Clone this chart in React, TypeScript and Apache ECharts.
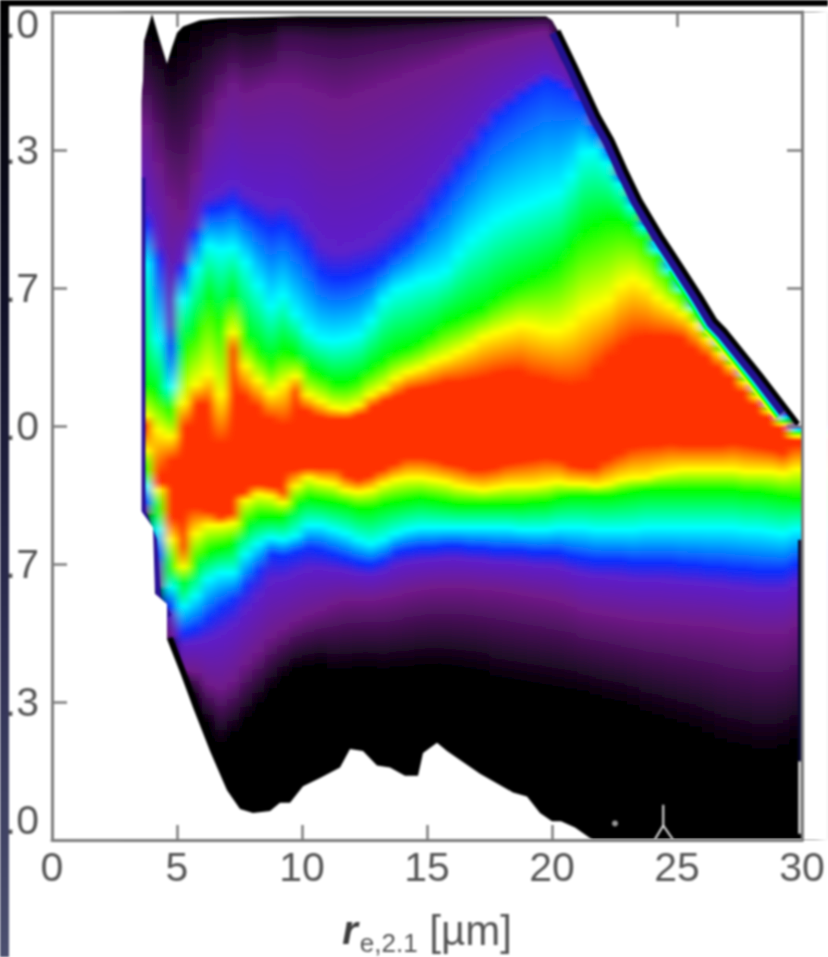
import React, { useEffect, useRef } from "react";
import * as echarts from "echarts";

// x axis and y axis labels (the reference's left edge leaves only these characters visible)
const xTicks = [0, 5, 10, 15, 20, 25, 30];
const yTicks = [-2, -4 / 3, -2 / 3, 0, 2 / 3, 4 / 3, 2];
const yLabels = [".0", ".3", ".7", ".0", ".7", ".3", "{t|.0}"];

// centre of each histogram column, in µm
const columnX = [
  3.75, 4.25, 4.75, 5.25, 5.75, 6.25, 6.75, 7.25, 7.75, 8.25,
  8.75, 9.25, 9.75, 10.25, 10.75, 11.25, 11.75, 12.25, 12.75, 13.25,
  13.75, 14.25, 14.75, 15.25, 15.75, 16.25, 16.75, 17.25, 17.75, 18.25,
  18.75, 19.25, 19.75, 20.25, 20.75, 21.25, 21.75, 22.25, 22.75, 23.25,
  23.75, 24.25, 24.75, 25.25, 25.75, 26.25, 26.75, 27.25, 27.75, 28.25,
  28.75, 29.25, 29.75,
];

// y value at which each column reaches each contour colour
const topBlack = [
  1.91, 1.89, 1.82, 1.90, 1.95, 1.97, 1.97, 1.98, 1.98, 1.98,
  1.98, 1.98, 1.98, 1.98, 1.98, 1.98, 1.98, 1.98, 1.98, 1.98,
  1.98, 1.98, 1.98, 1.98, 1.98, 1.98, 1.98, 1.98, 1.98, 1.98,
  1.98, 1.98, 1.98, 1.91, 1.78, 1.65, 1.52, 1.41, 1.27, 1.15,
  1.03, 0.94, 0.84, 0.75, 0.65, 0.56, 0.48, 0.41, 0.33, 0.26,
  0.17, 0.10, 0.03,
];
const topPurple = [
  1.45, 1.26, 1.09, 1.02, 1.21, 1.43, 1.57, 1.65, 1.60, 1.62,
  1.65, 1.65, 1.65, 1.62, 1.60, 1.57, 1.57, 1.60, 1.62, 1.65,
  1.67, 1.70, 1.72, 1.74, 1.77, 1.79, 1.82, 1.84, 1.86, 1.87,
  1.89, 1.90, 1.91, 1.86, 1.75, 1.62, 1.49, 1.38, 1.25, 1.14,
  1.01, 0.92, 0.82, 0.73, 0.63, 0.54, 0.46, 0.39, 0.31, 0.24,
  0.15, 0.08, 0.01,
];
const topBlue = [
  0.97, 0.80, 0.38, 0.76, 0.92, 1.04, 1.05, 1.08, 1.03, 0.99,
  0.95, 0.97, 0.92, 0.84, 0.74, 0.71, 0.71, 0.73, 0.75, 0.79,
  0.85, 0.90, 0.97, 1.07, 1.15, 1.24, 1.32, 1.41, 1.49, 1.54,
  1.59, 1.63, 1.67, 1.65, 1.62, 1.57, 1.45, 1.34, 1.21, 1.11,
  0.99, 0.89, 0.79, 0.70, 0.59, 0.50, 0.43, 0.36, 0.28, 0.20,
  0.13, 0.06, 0.00,
];
const topCyan = [
  0.78, 0.42, 0.19, 0.61, 0.76, 0.87, 0.85, 0.86, 0.79, 0.68,
  0.58, 0.63, 0.54, 0.46, 0.42, 0.41, 0.42, 0.44, 0.51, 0.61,
  0.66, 0.68, 0.71, 0.72, 0.75, 0.83, 0.90, 0.95, 1.00, 1.03,
  1.06, 1.08, 1.11, 1.13, 1.21, 1.32, 1.33, 1.27, 1.17, 1.06,
  0.96, 0.85, 0.75, 0.66, 0.57, 0.47, 0.40, 0.33, 0.25, 0.18,
  0.10, 0.04, -0.02,
];
const topGreen = [
  0.20, 0.16, 0.08, 0.38, 0.47, 0.62, 0.51, 0.63, 0.44, 0.37,
  0.31, 0.37, 0.35, 0.28, 0.25, 0.21, 0.21, 0.23, 0.28, 0.32,
  0.36, 0.38, 0.41, 0.45, 0.50, 0.52, 0.55, 0.57, 0.62, 0.66,
  0.69, 0.72, 0.75, 0.79, 0.87, 0.94, 0.97, 1.00, 1.00, 0.97,
  0.90, 0.81, 0.71, 0.63, 0.54, 0.45, 0.38, 0.31, 0.23, 0.16,
  0.09, 0.02, -0.03,
];
const topYellow = [
  0.05, -0.02, -0.05, 0.11, 0.20, 0.25, 0.15, 0.45, 0.29, 0.22,
  0.16, 0.20, 0.24, 0.15, 0.12, 0.09, 0.08, 0.10, 0.15, 0.18,
  0.23, 0.26, 0.28, 0.31, 0.33, 0.36, 0.39, 0.43, 0.45, 0.47,
  0.49, 0.48, 0.46, 0.46, 0.49, 0.55, 0.58, 0.61, 0.68, 0.71,
  0.68, 0.62, 0.58, 0.54, 0.49, 0.42, 0.35, 0.29, 0.21, 0.14,
  0.07, 0.01, -0.05,
];
const topRed = [
  0.00, -0.24, -0.17, -0.01, 0.10, 0.10, -0.09, 0.36, 0.14, 0.09,
  0.03, 0.00, 0.16, 0.07, 0.04, 0.03, 0.03, 0.05, 0.09, 0.12,
  0.14, 0.17, 0.18, 0.19, 0.21, 0.21, 0.22, 0.23, 0.25, 0.26,
  0.26, 0.23, 0.22, 0.20, 0.19, 0.20, 0.27, 0.33, 0.38, 0.42,
  0.43, 0.43, 0.43, 0.42, 0.37, 0.33, 0.28, 0.23, 0.16, 0.10,
  0.04, -0.01, -0.07,
];
const lowRed = [
  -0.01, -0.27, -0.44, -0.58, -0.39, -0.41, -0.44, -0.42, -0.32, -0.28,
  -0.29, -0.32, -0.21, -0.20, -0.20, -0.20, -0.24, -0.26, -0.24, -0.21,
  -0.18, -0.15, -0.15, -0.16, -0.18, -0.19, -0.21, -0.21, -0.20, -0.18,
  -0.17, -0.16, -0.15, -0.16, -0.19, -0.20, -0.20, -0.16, -0.13, -0.10,
  -0.09, -0.09, -0.08, -0.09, -0.09, -0.09, -0.09, -0.08, -0.09, -0.10,
  -0.11, -0.13, -0.09,
];
const lowYellow = [
  -0.12, -0.31, -0.55, -0.68, -0.52, -0.48, -0.48, -0.47, -0.36, -0.33,
  -0.34, -0.37, -0.29, -0.25, -0.27, -0.28, -0.31, -0.32, -0.31, -0.28,
  -0.26, -0.25, -0.25, -0.26, -0.27, -0.29, -0.30, -0.31, -0.30, -0.29,
  -0.29, -0.29, -0.28, -0.27, -0.28, -0.28, -0.29, -0.28, -0.26, -0.25,
  -0.25, -0.23, -0.22, -0.21, -0.21, -0.21, -0.21, -0.21, -0.22, -0.22,
  -0.22, -0.23, -0.21,
];
const lowGreen = [
  -0.21, -0.40, -0.68, -0.76, -0.67, -0.61, -0.59, -0.57, -0.48, -0.44,
  -0.44, -0.44, -0.38, -0.35, -0.36, -0.37, -0.38, -0.40, -0.40, -0.38,
  -0.37, -0.36, -0.35, -0.36, -0.37, -0.38, -0.38, -0.38, -0.38, -0.38,
  -0.38, -0.37, -0.37, -0.35, -0.34, -0.34, -0.34, -0.34, -0.33, -0.32,
  -0.31, -0.31, -0.31, -0.31, -0.31, -0.31, -0.31, -0.31, -0.32, -0.32,
  -0.33, -0.34, -0.35,
];
const lowCyan = [
  -0.29, -0.50, -0.78, -0.87, -0.82, -0.74, -0.71, -0.71, -0.62, -0.57,
  -0.54, -0.55, -0.53, -0.48, -0.48, -0.50, -0.52, -0.55, -0.57, -0.55,
  -0.52, -0.50, -0.49, -0.49, -0.49, -0.49, -0.49, -0.49, -0.49, -0.49,
  -0.50, -0.50, -0.50, -0.49, -0.49, -0.49, -0.50, -0.50, -0.50, -0.50,
  -0.49, -0.49, -0.49, -0.49, -0.49, -0.49, -0.49, -0.49, -0.50, -0.50,
  -0.51, -0.52, -0.50,
];
const lowBlue = [
  -0.37, -0.62, -0.87, -1.00, -0.98, -0.93, -0.88, -0.84, -0.77, -0.70,
  -0.62, -0.63, -0.61, -0.59, -0.60, -0.62, -0.64, -0.66, -0.67, -0.65,
  -0.61, -0.60, -0.59, -0.59, -0.58, -0.58, -0.59, -0.59, -0.60, -0.60,
  -0.60, -0.61, -0.61, -0.61, -0.63, -0.64, -0.65, -0.65, -0.65, -0.66,
  -0.66, -0.66, -0.66, -0.67, -0.67, -0.68, -0.68, -0.69, -0.69, -0.70,
  -0.70, -0.70, -0.67,
];
const lowPurple = [
  -0.42, -0.77, -1.01, -1.18, -1.19, -1.25, -1.27, -1.23, -1.15, -1.09,
  -1.02, -0.98, -0.94, -0.91, -0.89, -0.86, -0.84, -0.84, -0.84, -0.83,
  -0.82, -0.80, -0.79, -0.78, -0.78, -0.78, -0.78, -0.79, -0.79, -0.80,
  -0.81, -0.82, -0.83, -0.84, -0.86, -0.89, -0.90, -0.91, -0.92, -0.93,
  -0.94, -0.94, -0.95, -0.95, -0.96, -0.96, -0.97, -0.98, -0.99, -1.00,
  -1.00, -1.00, -0.96,
];
const lowBlack = [
  -0.43, -0.79, -1.06, -1.25, -1.32, -1.44, -1.54, -1.49, -1.42, -1.35,
  -1.28, -1.22, -1.18, -1.17, -1.16, -1.19, -1.19, -1.18, -1.18, -1.19,
  -1.18, -1.18, -1.17, -1.17, -1.17, -1.18, -1.19, -1.20, -1.23, -1.24,
  -1.25, -1.26, -1.27, -1.28, -1.29, -1.30, -1.32, -1.34, -1.35, -1.37,
  -1.40, -1.42, -1.44, -1.46, -1.48, -1.51, -1.54, -1.56, -1.57, -1.59,
  -1.59, -1.57, -1.54,
];

// outline of the populated region
const outlineTopX = [3.56, 3.64, 3.68, 4.0, 4.32, 4.6, 4.8, 5.0, 5.24, 5.92, 6.72, 9.92, 19.76, 20.0, 20.24, 20.92, 21.84, 22.4, 22.92, 23.52, 24.36, 25.12, 25.92, 26.52, 26.92, 28.32, 29.4, 29.84, 30];
const outlineTopY = [1.57, 1.67, 1.86, 1.99, 1.86, 1.75, 1.83, 1.90, 1.93, 1.96, 1.97, 1.98, 1.98, 1.96, 1.91, 1.74, 1.50, 1.38, 1.24, 1.09, 0.92, 0.78, 0.63, 0.51, 0.46, 0.25, 0.08, 0.01, -0.02];
const outlineLowX = [3.56, 4.04, 4.12, 4.6, 4.6, 5.12, 5.64, 6.32, 7.0, 7.52, 8.04, 8.72, 9.12, 9.52, 10.04, 10.72, 11.52, 11.92, 12.44, 13.0, 13.52, 14.12, 14.64, 14.84, 15.4, 15.8, 17.12, 18.44, 19.0, 19.52, 20.0, 20.36, 20.92, 21.52, 21.72];
const outlineLowY = [-0.41, -0.49, -0.81, -0.86, -1.03, -1.19, -1.36, -1.57, -1.76, -1.85, -1.87, -1.86, -1.82, -1.82, -1.74, -1.70, -1.65, -1.56, -1.57, -1.64, -1.65, -1.69, -1.69, -1.58, -1.53, -1.57, -1.68, -1.77, -1.79, -1.87, -1.91, -1.91, -1.94, -1.99, -2.0];
const leftRimX = [3.64, 3.64, 4.1, 4.25, 4.7];
const leftRimY = [1.2, -0.41, -0.55, -0.83, -0.92];
const rightRimY = [-0.55, -1.62];
const forkStemX = [24.45, 24.45];
const forkStemY = [-1.83, -1.93];
const forkFeetX = [24.1, 24.45, 24.85];
const forkFeetY = [-2.0, -1.93, -2.0];
const gapSliverX = [29.9, 29.9];
const gapSliverY = [-1.62, -1.97];
const gapDot = [22.52, -1.92];

const rows = columnX.map((x, i) => [
  x, topBlack[i], topPurple[i], topBlue[i], topCyan[i], topGreen[i], topYellow[i], topRed[i],
  lowRed[i], lowYellow[i], lowGreen[i], lowCyan[i], lowBlue[i], lowPurple[i], lowBlack[i],
]);

const BLACK = "#000000";
const DARK_PURPLE = "#3c0e4c";
const PURPLE = "#701a8a";
const VIOLET = "#5c20cc";
const BLUE = "#0a30ff";
const CYAN = "#00ffff";
const GREEN = "#00ff00";
const YELLOW = "#ffff00";
const RED = "#ff3000";
const AXIS = "#7c7c7c";
const TEXT = "#555555";
const FONT = '"Liberation Sans", Arial, sans-serif';
const LEFT_LIMIT = 3.56;
const GRID = { left: 52, right: 26, top: 12, bottom: 117, containLabel: false, outerBoundsMode: "none" };

function renderColumn(params: any, api: any) {
  const x = api.value(0);
  const i = params.dataIndex;
  // the outermost columns run on past the region so that the smoothing does not fade them; the outline trims them
  const left = i === 0 ? x - 1 : x - 0.25;
  const right = i === columnX.length - 1 ? x + 1 : x + 0.25;
  const a = api.coord([left, 2]);
  const b = api.coord([right, -2]);
  const h = b[1] - a[1];
  const off = (k: number) => (api.coord([x, api.value(k)])[1] - a[1]) / h;
  const raw: [number, string][] = [
    [off(1), BLACK],
    ...(x > 9 ? ([[off(1) + 0.3 * (off(2) - off(1)), DARK_PURPLE]] as [number, string][]) : []),
    [off(2), PURPLE],
    [off(2) + 0.85 * (off(3) - off(2)), VIOLET],
    [off(3), BLUE],
    [off(4), CYAN],
    [off(5), GREEN],
    [off(6), YELLOW],
    [off(7), RED],
    [off(8), RED],
    [off(9), YELLOW],
    [off(10), GREEN],
    [off(11), CYAN],
    [off(12), BLUE],
    [off(12) + 0.3 * (off(13) - off(12)), VIOLET],
    [off(13), PURPLE],
    [off(14), BLACK],
  ];
  let last = 0;
  const stops = raw.map(([o, color]) => {
    last = Math.max(last, Math.min(1, o));
    return { offset: last, color };
  });
  return {
    type: "rect",
    shape: { x: a[0], y: a[1], width: b[0] - a[0] + 0.6, height: h },
    style: { fill: new echarts.graphic.LinearGradient(0, 0, 0, 1, stops) },
  };
}

function renderOutlines(params: any, api: any) {
  const pts = (xs: number[], ys: number[]) => xs.map((x, i) => api.coord([x, ys[i]]));
  const top = pts(outlineTopX, outlineTopY);
  const low = pts(outlineLowX, outlineLowY);
  const from = (x: number) => top.slice(outlineTopX.indexOf(x), top.length - 2);
  const diagFull = top.slice(outlineTopX.indexOf(20.24), top.length - 1);
  const c = (x: number, y: number) => api.coord([x, y]);
  const edge = LEFT_LIMIT;
  const closeTop = [c(30, 2), c(30, -0.02), ...top.slice(0).reverse(), c(edge, 2)];
  const lowMask = [c(edge, outlineLowY[0]), ...low, c(21.72, -2), c(edge, -2)];
  const leftMask = [c(0, 2), c(edge + 0.02, 2), c(edge + 0.02, -2), c(0, -2)];
  const rightMask = [c(30, 2), c(31, 2), c(31, -2), c(30, -2)];
  const line = (points: number[][], stroke: string, lineWidth: number) => ({
    type: "polyline",
    shape: { points },
    style: { fill: null, stroke, lineWidth, lineJoin: "round" },
  });
  const polygon = (points: number[][]) => ({ type: "polygon", shape: { points }, style: { fill: "#ffffff" } });
  return {
    type: "group",
    children: [
      line(from(26.52), YELLOW, 31),
      line(from(25.12), GREEN, 27),
      line(from(24.36), CYAN, 23),
      line(from(20.24), "#221290", 19),
      line(pts(leftRimX, leftRimY), "#2a1298", 5),
      line(low.slice(4, 12), BLACK, 12),
      line([c(29.92, rightRimY[0]), c(29.92, rightRimY[1])], "#0a0a30", 4),
      polygon(closeTop),
      polygon(lowMask),
      polygon(leftMask),
      polygon(rightMask),
      line(diagFull, BLACK, 5),
      line(pts(forkStemX, forkStemY), "#e8e8e8", 2),
      line(pts(forkFeetX, forkFeetY), "#e8e8e8", 2),
      line(pts(gapSliverX, gapSliverY), "#e8e8e8", 2.5),
      {
        type: "circle",
        shape: { cx: c(gapDot[0], gapDot[1])[0], cy: c(gapDot[0], gapDot[1])[1], r: 3 },
        style: { fill: "#9a9a9a" },
      },
    ],
  };
}

export default function App() {
  const lowerRef = useRef<HTMLDivElement>(null);
  const upperRef = useRef<HTMLDivElement>(null);
  useEffect(() => {
    const lower = echarts.init(lowerRef.current!, undefined, { renderer: "svg" });
    lower.setOption({
      animation: false,
      backgroundColor: "#ffffff",
      grid: GRID,
      xAxis: { type: "value", min: 0, max: 30, show: false },
      yAxis: { type: "value", min: -2, max: 2, show: false },
      series: [
        {
          type: "custom",
          coordinateSystem: "cartesian2d",
          renderItem: renderColumn,
          data: rows,
          encode: { x: 0, y: 1 },
          clip: false,
          silent: true,
        },
      ],
    });

    const upper = echarts.init(upperRef.current!, undefined, { renderer: "svg" });
    const tick = { lineStyle: { color: AXIS, width: 2.5 }, length: 15, inside: true };
    const line = { show: true, onZero: false, lineStyle: { color: AXIS, width: 3 } };
    upper.setOption({
      animation: false,
      backgroundColor: "transparent",
      grid: GRID,
      xAxis: [
        {
          type: "value",
          min: 0,
          max: 30,
          interval: 5,
          z: 5,
          position: "bottom",
          axisLine: line,
          splitLine: { show: false },
          axisTick: { ...tick, customValues: [5, 10, 15, 20] },
          axisLabel: {
            customValues: xTicks,
            fontFamily: FONT,
            fontSize: 41,
            color: TEXT,
            margin: 6,
          },
          name: "{r|r}{s|e,2.1}{u| [µm]}",
          nameLocation: "middle",
          nameGap: 64,
          nameTextStyle: {
            rich: {
              r: { fontFamily: FONT, fontSize: 40, fontWeight: "bold", fontStyle: "italic", color: "#3c3c3c" },
              s: { fontFamily: FONT, fontSize: 26, color: TEXT, padding: [26, 0, 0, 2] },
              u: { fontFamily: FONT, fontSize: 42, color: TEXT },
            },
          },
        },
        {
          type: "value",
          min: 0,
          max: 30,
          interval: 5,
          z: 5,
          position: "top",
          axisLine: line,
          splitLine: { show: false },
          axisTick: { ...tick, customValues: [5, 25] },
          axisLabel: { show: false },
        },
      ],
      yAxis: [
        {
          type: "value",
          min: -2,
          max: 2,
          z: 5,
          position: "left",
          axisLine: line,
          splitLine: { show: false },
          axisTick: { ...tick, customValues: yTicks },
          axisLabel: {
            customValues: yTicks,
            formatter: (v: number) => yLabels[yTicks.findIndex((t) => Math.abs(t - v) < 1e-6)] ?? "",
            fontFamily: FONT,
            fontSize: 41,
            color: TEXT,
            margin: 13,
            verticalAlignMinLabel: "bottom",
            rich: {
              t: { fontFamily: FONT, fontSize: 41, color: TEXT, padding: [24, 0, 0, 0] },
            },
          },
        },
        {
          type: "value",
          min: -2,
          max: 2,
          z: 5,
          position: "right",
          axisLine: line,
          splitLine: { show: false },
          axisTick: { ...tick, customValues: [yTicks[3], yTicks[4], yTicks[5]] },
          axisLabel: { show: false },
        },
      ],
      series: [
        {
          type: "custom",
          coordinateSystem: "cartesian2d",
          renderItem: renderOutlines,
          data: [[0, 0]],
          clip: false,
          silent: true,
          z: 1,
        },
      ],
      graphic: [
        {
          type: "rect",
          z: 100,
          shape: { x: 0, y: 0, width: 9, height: 957 },
          style: {
            fill: new echarts.graphic.LinearGradient(0, 0, 0, 1, [
              { offset: 0, color: "#000000" },
              { offset: 0.33, color: "#12122a" },
              { offset: 0.66, color: "#2e2e52" },
              { offset: 1, color: "#4c5070" },
            ]),
          },
        },
        {
          type: "rect",
          z: 100,
          shape: { x: 0, y: 0, width: 828, height: 6 },
          style: { fill: "#000000" },
        },
      ],
    });
    return () => {
      lower.dispose();
      upper.dispose();
    };
  }, []);
  const layer: React.CSSProperties = { position: "absolute", left: 0, top: 0, width: 828, height: 957 };
  return (
    <div style={{ position: "fixed", left: 0, top: 0, width: 828, height: 957, overflow: "hidden", background: "#fff" }}>
      <svg width="0" height="0" style={{ position: "absolute" }}>
        <filter id="columnSmooth" x="-5%" y="-2%" width="110%" height="104%">
          <feGaussianBlur stdDeviation="4 0.8" />
        </filter>
      </svg>
      <div ref={lowerRef} style={{ ...layer, filter: "url(#columnSmooth)" }} />
      <div ref={upperRef} style={{ ...layer, filter: "blur(0.9px)" }} />
    </div>
  );
}
